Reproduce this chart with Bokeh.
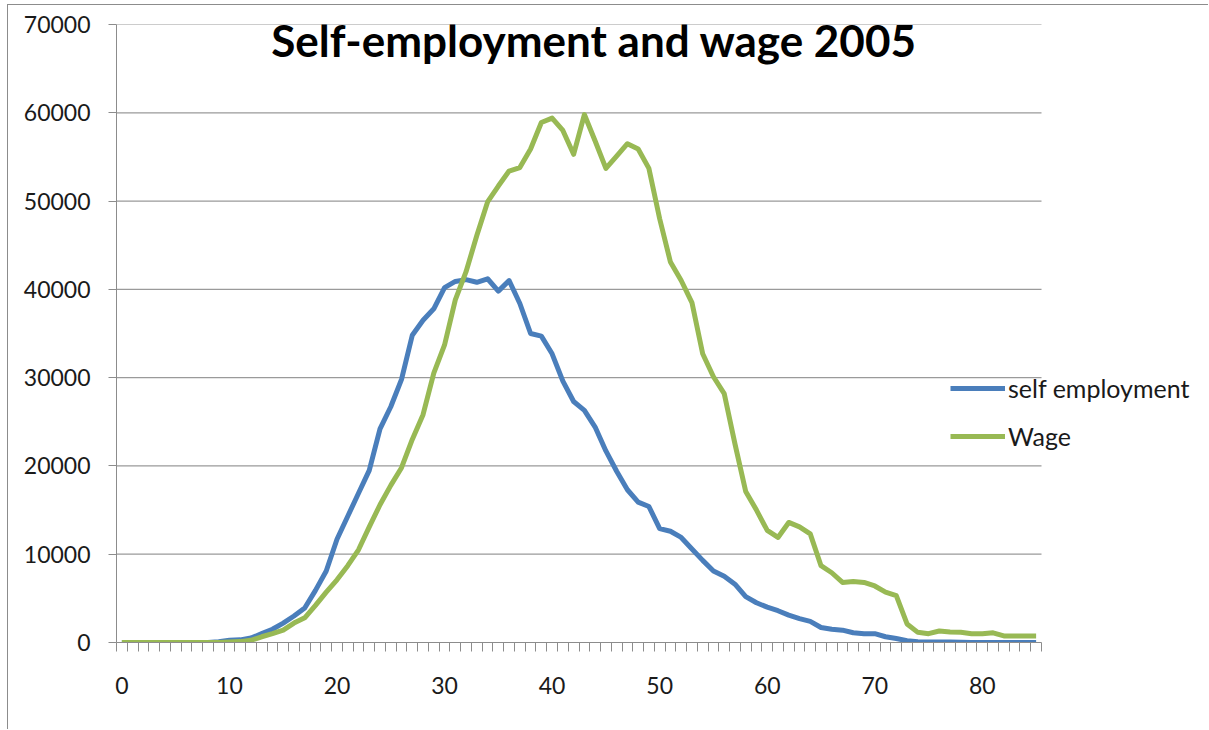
from bokeh.plotting import figure
from bokeh.models import (Range1d, FixedTicker, Legend, LegendItem, Label, LinearAxis)
from bokeh.embed import file_html
from bokeh.resources import INLINE

ages = list(range(0, 86))
self_employment = [
    0, 0, 0, 0, 0, 0, 0, 0, 0, 100,
    250, 300, 500, 1000, 1500, 2200, 3000, 3900, 5900, 8100,
    11700, 14300, 16900, 19500, 24200, 26700, 29800, 34800, 36500, 37800,
    40200, 40900, 41100, 40800, 41200, 39800, 41000, 38400, 35000, 34700,
    32700, 29600, 27300, 26300, 24400, 21700, 19400, 17300, 15900, 15400,
    12900, 12600, 11900, 10600, 9300, 8100, 7500, 6600, 5200, 4500,
    4000, 3600, 3100, 2700, 2400, 1700, 1500, 1400, 1100, 1000,
    1000, 650, 450, 200, 80, 50, 50, 50, 40, 10,
    0, 0, 0, 0, 0, 0,
]
wage = [
    0, 0, 0, 0, 0, 0, 0, 0, 0, 0,
    50, 100, 250, 650, 1000, 1400, 2200, 2800, 4200, 5700,
    7100, 8700, 10500, 13100, 15600, 17800, 19800, 23000, 25800, 30500,
    33700, 38800, 42000, 46100, 49900, 51700, 53400, 53800, 55900, 58900,
    59400, 58000, 55300, 59800, 56800, 53700, 55100, 56500, 55900, 53700,
    48000, 43100, 41000, 38500, 32700, 30100, 28200, 22500, 17100, 15000,
    12700, 11900, 13600, 13100, 12300, 8700, 7900, 6800, 6900, 6800,
    6400, 5700, 5300, 2100, 1150, 1000, 1300, 1200, 1150, 1000,
    1000, 1100, 750, 750, 750, 750,
]
x_labels = [0, 10, 20, 30, 40, 50, 60, 70, 80]
y_ticks = [0, 10000, 20000, 30000, 40000, 50000, 60000, 70000]
title_text = "Self-employment and wage 2005"

FONT = "Lato"
GRID = "#9a9a9a"
AXIS = "#8c8c8c"
BLUE = "#4a7ebb"
GREEN = "#98b954"

x_lo, x_hi = -0.5, 85.5          # category axis extent
frame_px = 1093                  # frame width in pixels (to the right edge)
cat_px = 925 / 86                # pixels per category in the plot area
x_end = x_lo + frame_px / cat_px

p = figure(width=1201, height=725, output_backend="svg", toolbar_location=None,
           x_range=Range1d(x_lo, x_end), y_range=Range1d(0, 70000),
           min_border_left=108, min_border_right=0, min_border_top=19,
           min_border_bottom=88, x_axis_type=None, y_axis_type=None)
p.margin = (4, 0, 0, 7)
p.styles = {"border-left": "1px solid #8c8c8c", "border-top": "1px solid #8c8c8c"}
p.outline_line_color = None
p.background_fill_color = "white"
p.border_fill_color = "white"
p.xgrid.visible = False
p.ygrid.visible = False

# horizontal gridlines limited to the category span
p.segment(x0=[x_lo] * 7, x1=[x_hi] * 7, y0=y_ticks[1:], y1=y_ticks[1:],
          line_color=GRID, line_width=1.2)

# x axis: labels every 10, small ticks between categories
xaxis = LinearAxis(ticker=FixedTicker(ticks=x_labels,
                                      minor_ticks=[i - 0.5 for i in range(0, 87)]))
xaxis.bounds = (x_lo, x_hi)
xaxis.axis_line_color = AXIS
xaxis.major_tick_out = 0
xaxis.major_tick_in = 0
xaxis.minor_tick_out = 9
xaxis.minor_tick_in = 0
xaxis.minor_tick_line_color = AXIS
xaxis.major_label_standoff = 25
xaxis.major_label_text_font = FONT
xaxis.major_label_text_font_size = "23px"
xaxis.major_label_text_color = "#1a1a1a"
p.add_layout(xaxis, "below")

yaxis = LinearAxis(ticker=FixedTicker(ticks=y_ticks, minor_ticks=[]))
yaxis.axis_line_color = AXIS
yaxis.major_tick_out = 8
yaxis.major_tick_in = 0
yaxis.major_tick_line_color = AXIS
yaxis.minor_tick_out = 0
yaxis.minor_tick_in = 0
yaxis.major_label_standoff = 18
yaxis.major_label_text_font = FONT
yaxis.major_label_text_font_size = "23px"
yaxis.major_label_text_color = "#1a1a1a"
p.add_layout(yaxis, "left")

r_self = p.line(ages, self_employment, line_color=BLUE, line_width=5, line_join="round")
r_wage = p.line(ages, wage, line_color=GREEN, line_width=5, line_join="round")

title = Label(x=43.9, y=68250, text=title_text, text_align="center",
              text_baseline="alphabetic", text_font=FONT, text_font_style="bold",
              text_font_size="44px", text_color="black")
p.add_layout(title)

legend = Legend(items=[LegendItem(label="self employment", renderers=[r_self]),
                       LegendItem(label="Wage", renderers=[r_wage])],
                location=(834, 191), orientation="vertical")
legend.glyph_width = 55
legend.glyph_height = 20
legend.label_height = 20
legend.spacing = 18
legend.padding = 0
legend.margin = 0
legend.label_standoff = 3
legend.label_text_font = FONT
legend.label_text_font_size = "25px"
legend.label_text_color = "#1a1a1a"
legend.border_line_color = None
legend.background_fill_alpha = 0
p.add_layout(legend, "center")

open("out.html", "w").write(file_html(p, INLINE))
